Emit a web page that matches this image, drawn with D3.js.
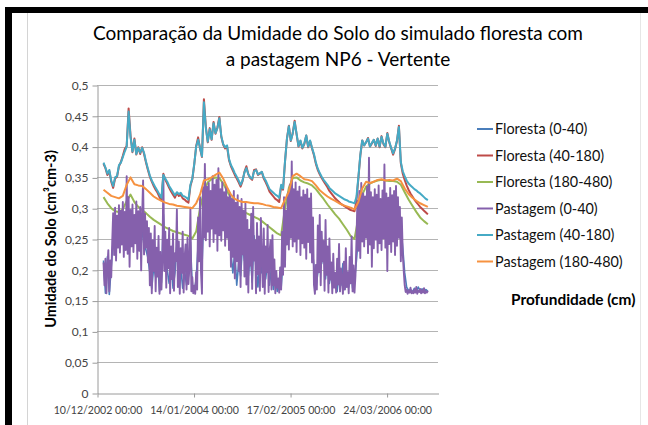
<!DOCTYPE html>
<html>
<head>
<meta charset="utf-8">
<script src="https://cdn.jsdelivr.net/npm/d3@7"></script>
<style>
  body { margin: 0; background: #fff; }
  svg { display: block; }
</style>
</head>
<body>
<svg id="chart" width="648" height="425"></svg>
<script>
// ---- Data: simulated soil moisture (cm3/cm3), daily model output thinned to regular steps ----
const seriesStart = "2003-01-06";

// Floresta (0-40), every 8 days
const florestaTopo = [
  0.215,0.162,0.221,0.160,0.205,0.248,0.262,0.255,0.270,0.258,
  0.266,0.274,0.290,0.262,0.255,0.268,0.250,0.262,0.255,0.245,
  0.262,0.240,0.232,0.220,0.195,0.170,0.205,0.188,0.215,0.165,
  0.180,0.290,0.225,0.200,0.178,0.215,0.170,0.195,0.240,0.185,
  0.205,0.170,0.198,0.175,0.190,0.245,0.172,0.165,0.185,0.240,
  0.275,0.205,0.295,0.300,0.285,0.292,0.280,0.296,0.288,0.290,
  0.298,0.283,0.285,0.276,0.270,0.255,0.228,0.195,0.230,0.175,
  0.210,0.190,0.240,0.215,0.250,0.190,0.225,0.180,0.255,0.200,
  0.172,0.230,0.195,0.240,0.185,0.215,0.175,0.205,0.168,0.190,
  0.165,0.178,0.170,0.215,0.250,0.275,0.268,0.285,0.295,0.300,
  0.282,0.290,0.278,0.286,0.275,0.282,0.270,0.262,0.240,0.205,
  0.170,0.195,0.235,0.210,0.245,0.185,0.225,0.178,0.200,0.172,
  0.185,0.165,0.195,0.175,0.210,0.168,0.192,0.172,0.205,0.170,
  0.182,0.215,0.255,0.280,0.272,0.290,0.282,0.295,0.285,0.278,
  0.288,0.265,0.285,0.280,0.292,0.285,0.276,0.262,0.280,0.286,
  0.278,0.290,0.282,0.288,0.270,0.235,0.195,0.172,0.166,0.168,
  0.164,0.170,0.165,0.172,0.166,0.169,0.164,0.168,0.165
];

// Floresta (40-180), every 8 days
const florestaMeio = [
  0.372,0.365,0.354,0.360,0.343,0.333,0.348,0.351,0.368,0.375,
  0.385,0.396,0.401,0.462,0.418,0.391,0.413,0.387,0.399,0.388,
  0.399,0.388,0.374,0.362,0.351,0.343,0.336,0.330,0.325,0.318,
  0.313,0.356,0.346,0.340,0.333,0.327,0.322,0.317,0.325,0.320,
  0.322,0.316,0.314,0.311,0.309,0.336,0.347,0.371,0.401,0.415,
  0.397,0.383,0.477,0.432,0.407,0.430,0.411,0.440,0.421,0.431,
  0.448,0.416,0.403,0.397,0.400,0.378,0.368,0.361,0.354,0.348,
  0.342,0.335,0.344,0.359,0.368,0.355,0.349,0.346,0.362,0.363,
  0.354,0.356,0.359,0.348,0.342,0.335,0.327,0.323,0.319,0.315,
  0.313,0.310,0.336,0.330,0.375,0.413,0.434,0.409,0.422,0.442,
  0.420,0.400,0.409,0.397,0.404,0.418,0.399,0.409,0.397,0.386,
  0.372,0.362,0.355,0.349,0.344,0.339,0.334,0.328,0.324,0.320,
  0.316,0.313,0.310,0.307,0.305,0.303,0.301,0.299,0.297,0.296,
  0.295,0.312,0.348,0.385,0.410,0.402,0.407,0.414,0.400,0.405,
  0.411,0.401,0.413,0.399,0.417,0.404,0.399,0.422,0.407,0.397,
  0.387,0.396,0.409,0.434,0.373,0.356,0.346,0.337,0.330,0.324,
  0.319,0.314,0.310,0.306,0.302,0.299,0.296,0.293,0.290
];

// Floresta (180-480), every 16 days
const florestaFundo = [
  0.318,0.308,0.300,0.295,0.294,0.298,0.312,0.322,0.310,0.302,
  0.297,0.292,0.286,0.281,0.277,0.273,0.269,0.266,0.263,0.261,
  0.259,0.257,0.255,0.251,0.262,0.300,0.328,0.342,0.347,0.350,
  0.349,0.340,0.328,0.316,0.306,0.300,0.296,0.292,0.289,0.286,
  0.283,0.279,0.274,0.269,0.264,0.259,0.256,0.300,0.333,0.349,
  0.350,0.345,0.342,0.340,0.337,0.331,0.323,0.315,0.306,0.298,
  0.290,0.283,0.274,0.265,0.255,0.250,0.285,0.322,0.335,0.340,
  0.343,0.345,0.346,0.345,0.344,0.344,0.343,0.338,0.326,0.314,
  0.304,0.294,0.285,0.279,0.274
];

// Pastagem (0-40), every 4 days
const pastagemTopo = [
  0.212,0.175,0.218,0.162,0.205,0.232,0.165,0.215,0.188,0.245,
  0.292,0.224,0.301,0.215,0.288,0.236,0.305,0.228,0.296,0.241,
  0.310,0.221,0.294,0.232,0.352,0.226,0.318,0.205,0.297,0.238,
  0.306,0.229,0.289,0.243,0.311,0.218,0.295,0.231,0.302,0.199,
  0.287,0.345,0.225,0.291,0.236,0.279,0.212,0.268,0.175,0.259,
  0.162,0.248,0.198,0.271,0.165,0.236,0.189,0.255,0.161,0.229,
  0.168,0.214,0.352,0.198,0.262,0.171,0.249,0.203,0.268,0.162,
  0.238,0.185,0.259,0.166,0.227,0.214,0.298,0.172,0.246,0.161,
  0.235,0.195,0.262,0.163,0.219,0.241,0.168,0.252,0.177,0.206,
  0.301,0.165,0.188,0.162,0.174,0.161,0.196,0.168,0.285,0.214,
  0.318,0.196,0.161,0.334,0.252,0.372,0.248,0.335,0.262,0.341,
  0.238,0.328,0.267,0.352,0.245,0.338,0.259,0.346,0.231,0.365,
  0.256,0.331,0.247,0.342,0.264,0.326,0.239,0.337,0.252,0.318,
  0.232,0.324,0.205,0.315,0.221,0.328,0.186,0.309,0.214,0.321,
  0.198,0.302,0.172,0.315,0.225,0.296,0.189,0.308,0.176,0.281,
  0.163,0.265,0.207,0.291,0.169,0.302,0.215,0.248,0.162,0.276,
  0.193,0.254,0.166,0.284,0.221,0.172,0.267,0.161,0.238,0.196,
  0.273,0.164,0.229,0.248,0.168,0.256,0.175,0.217,0.162,0.198,
  0.171,0.186,0.163,0.204,0.168,0.262,0.192,0.318,0.205,0.296,
  0.241,0.325,0.233,0.338,0.252,0.376,0.238,0.331,0.246,0.342,
  0.229,0.327,0.251,0.335,0.224,0.318,0.243,0.329,0.236,0.322,
  0.218,0.331,0.245,0.316,0.228,0.324,0.212,0.285,0.176,0.161,
  0.208,0.168,0.272,0.196,0.289,0.175,0.262,0.214,0.247,0.166,
  0.281,0.192,0.238,0.163,0.251,0.184,0.212,0.162,0.226,0.171,
  0.195,0.163,0.218,0.176,0.242,0.165,0.202,0.187,0.161,0.213,
  0.168,0.235,0.172,0.196,0.162,0.221,0.178,0.254,0.165,0.207,
  0.163,0.191,0.245,0.312,0.231,0.328,0.219,0.341,0.246,0.324,
  0.238,0.319,0.252,0.335,0.227,0.382,0.241,0.326,0.205,0.318,
  0.235,0.331,0.249,0.322,0.228,0.337,0.243,0.315,0.232,0.329,
  0.251,0.371,0.236,0.324,0.198,0.317,0.242,0.333,0.229,0.321,
  0.246,0.328,0.224,0.336,0.239,0.318,0.252,0.302,0.214,0.285,
  0.226,0.198,0.175,0.164,0.168,0.161,0.166,0.163,0.171,0.162,
  0.165,0.162,0.168,0.163,0.172,0.161,0.166,0.164,0.169,0.162,
  0.167,0.163,0.170,0.162,0.165,0.163,0.166
];

// Pastagem (40-180), every 8 days
const pastagemMeio = [
  0.374,0.366,0.356,0.362,0.345,0.336,0.350,0.352,0.370,0.374,
  0.383,0.392,0.400,0.457,0.415,0.392,0.411,0.388,0.398,0.390,
  0.398,0.390,0.376,0.364,0.353,0.345,0.339,0.333,0.328,0.322,
  0.317,0.354,0.348,0.343,0.336,0.331,0.326,0.321,0.326,0.323,
  0.325,0.320,0.319,0.317,0.314,0.338,0.348,0.372,0.400,0.411,
  0.398,0.384,0.472,0.430,0.408,0.428,0.412,0.438,0.422,0.430,
  0.446,0.417,0.404,0.399,0.402,0.380,0.370,0.364,0.357,0.351,
  0.345,0.338,0.345,0.358,0.365,0.355,0.350,0.348,0.360,0.362,
  0.355,0.357,0.359,0.350,0.345,0.338,0.331,0.328,0.325,0.322,
  0.320,0.317,0.338,0.332,0.376,0.412,0.433,0.410,0.421,0.440,
  0.421,0.401,0.410,0.398,0.405,0.418,0.400,0.410,0.398,0.388,
  0.374,0.364,0.357,0.351,0.346,0.342,0.338,0.333,0.330,0.327,
  0.324,0.322,0.320,0.318,0.316,0.314,0.313,0.311,0.310,0.309,
  0.308,0.318,0.350,0.386,0.410,0.402,0.407,0.413,0.400,0.406,
  0.411,0.402,0.413,0.400,0.416,0.405,0.400,0.421,0.408,0.398,
  0.389,0.397,0.410,0.432,0.375,0.360,0.352,0.345,0.340,0.337,
  0.334,0.331,0.329,0.326,0.324,0.321,0.318,0.315,0.313
];

// Pastagem (180-480), every 16 days
const pastagemFundo = [
  0.330,0.325,0.320,0.318,0.316,0.320,0.338,0.350,0.339,0.337,
  0.336,0.331,0.325,0.319,0.315,0.312,0.309,0.307,0.306,0.304,
  0.303,0.302,0.301,0.300,0.308,0.322,0.345,0.347,0.350,0.354,
  0.358,0.348,0.334,0.322,0.315,0.312,0.310,0.310,0.309,0.308,
  0.308,0.307,0.305,0.304,0.302,0.301,0.300,0.314,0.327,0.352,
  0.356,0.352,0.347,0.346,0.344,0.337,0.329,0.324,0.319,0.315,
  0.312,0.308,0.305,0.303,0.301,0.298,0.310,0.332,0.343,0.341,
  0.343,0.346,0.347,0.345,0.346,0.345,0.348,0.344,0.332,0.323,
  0.317,0.312,0.308,0.305,0.302
];

const seriesNames = [
  "Floresta (0-40)", "Floresta (40-180)", "Floresta (180-480)",
  "Pastagem (0-40)", "Pastagem (40-180)", "Pastagem (180-480)"
];
const seriesColors = ["#4A7EBB", "#BE4B48", "#98B954", "#8560AC", "#46AAC5", "#F69240"];

const yTickValues = [0, 0.05, 0.1, 0.15, 0.2, 0.25, 0.3, 0.35, 0.4, 0.45, 0.5];
const yTickLabels = ["0", "0,05", "0,1", "0,15", "0,2", "0,25", "0,3", "0,35", "0,4", "0,45", "0,5"];
const xTickDates = ["2002-12-10", "2004-01-14", "2005-02-17", "2006-03-24"];
const xTickLabels = ["10/12/2002 00:00", "14/01/2004 00:00", "17/02/2005 00:00", "24/03/2006 00:00"];
const xDomain = ["2002-12-10", "2006-10-23"];

const titleLines = ["Comparação da Umidade do Solo do simulado floresta com", "a pastagem NP6 - Vertente"];
const yAxisTitle = "Umidade do Solo (cm³cm-3)";
const legendTitle = "Profundidade (cm)";

// ---- Helpers ----
const parse = d3.utcParse("%Y-%m-%d");
function withDates(values, stepDays) {
  const t0 = parse(seriesStart);
  return values.map((v, i) => ({ date: d3.utcDay.offset(t0, i * stepDays), v }));
}

const series = [
  withDates(florestaTopo, 8),
  withDates(florestaMeio, 8),
  withDates(florestaFundo, 16),
  withDates(pastagemTopo, 4),
  withDates(pastagemMeio, 8),
  withDates(pastagemFundo, 16)
];
const widths = [1.6, 2, 2, 1.9, 2, 2];

// ---- Layout ----
const W = 648, H = 425;
const plot = { left: 97, right: 438, top: 85, bottom: 393 };
const font = "Lato, 'Open Sans', sans-serif";
const svg = d3.select("#chart");

svg.append("rect").attr("width", W).attr("height", H).attr("fill", "#fff");

// outer black frame (left and top)
svg.append("rect").attr("x", 5).attr("y", 7).attr("width", 7).attr("height", H - 7).attr("fill", "#000");
svg.append("rect").attr("x", 5).attr("y", 7).attr("width", W - 5).attr("height", 6).attr("fill", "#000");
// chart area edges
svg.append("line").attr("x1", 27.5).attr("x2", 27.5).attr("y1", 13).attr("y2", H)
  .attr("stroke", "#d4d4d4").attr("stroke-width", 1);
svg.append("line").attr("x1", 640.5).attr("x2", 640.5).attr("y1", 13).attr("y2", H)
  .attr("stroke", "#e6e6e6").attr("stroke-width", 1);

const x = d3.scaleUtc().domain(xDomain.map(parse)).range([plot.left, plot.right]);
const y = d3.scaleLinear().domain([0, 0.5]).range([plot.bottom, plot.top]);

// horizontal gridlines
svg.append("g").selectAll("line")
  .data(yTickValues.filter(d => d > 0))
  .join("line")
  .attr("x1", plot.left).attr("x2", plot.right)
  .attr("y1", d => Math.round(y(d)) + 0.5).attr("y2", d => Math.round(y(d)) + 0.5)
  .attr("stroke", "#b4b4b4").attr("stroke-width", 1);

// y axis
const yAxis = svg.append("g")
  .attr("transform", `translate(${plot.left + 0.5},0.5)`)
  .call(d3.axisLeft(y).tickValues(yTickValues).tickSize(5).tickSizeOuter(0)
    .tickFormat((d, i) => yTickLabels[i]));
yAxis.select(".domain").attr("stroke", "#9a9a9a");
yAxis.selectAll(".tick line").attr("stroke", "#9a9a9a");
yAxis.selectAll(".tick text").attr("x", -9).attr("fill", "#444")
  .style("font-family", font).style("font-size", "12px");

// x axis
const xAxis = svg.append("g")
  .attr("transform", `translate(0.5,${plot.bottom + 0.5})`)
  .call(d3.axisBottom(x).tickValues(xTickDates.map(parse)).tickSize(4).tickSizeOuter(0)
    .tickFormat((d, i) => xTickLabels[i]));
xAxis.select(".domain").attr("stroke", "#9a9a9a");
xAxis.selectAll(".tick line").attr("stroke", "#9a9a9a");
xAxis.selectAll(".tick text").attr("y", 13).attr("fill", "#444")
  .style("font-family", font).style("font-size", "10.6px");

// data lines
const line = d3.line().x(d => x(d.date)).y(d => y(d.v));
svg.append("g").selectAll("path")
  .data(series)
  .join("path")
  .attr("d", line)
  .attr("fill", "none")
  .attr("stroke", (d, i) => seriesColors[i])
  .attr("stroke-width", (d, i) => widths[i])
  .attr("stroke-linejoin", "round");

// title
svg.append("g").selectAll("text")
  .data(titleLines)
  .join("text")
  .attr("x", 338).attr("y", (d, i) => 40 + i * 26)
  .attr("text-anchor", "middle")
  .attr("fill", "#000")
  .style("font-family", font).style("font-size", "19px")
  .text(d => d);

// y axis title
svg.append("text")
  .attr("transform", "translate(56,239) rotate(-90)")
  .attr("text-anchor", "middle")
  .attr("fill", "#000")
  .style("font-family", font).style("font-size", "14.5px").style("font-weight", "bold")
  .text(yAxisTitle);

// legend
const legend = svg.append("g").selectAll("g")
  .data(seriesNames)
  .join("g")
  .attr("transform", (d, i) => `translate(477,${129 + i * 26.5})`);
legend.append("line")
  .attr("x1", 0).attr("x2", 16).attr("y1", 0).attr("y2", 0)
  .attr("stroke", (d, i) => seriesColors[i]).attr("stroke-width", 2);
legend.append("text")
  .attr("x", 18).attr("y", 5)
  .attr("fill", "#111")
  .style("font-family", font).style("font-size", "14.4px")
  .text(d => d);

svg.append("text")
  .attr("x", 511).attr("y", 305)
  .attr("fill", "#000")
  .style("font-family", font).style("font-size", "15.4px").style("font-weight", "bold")
  .text(legendTitle);
</script>
</body>
</html>
